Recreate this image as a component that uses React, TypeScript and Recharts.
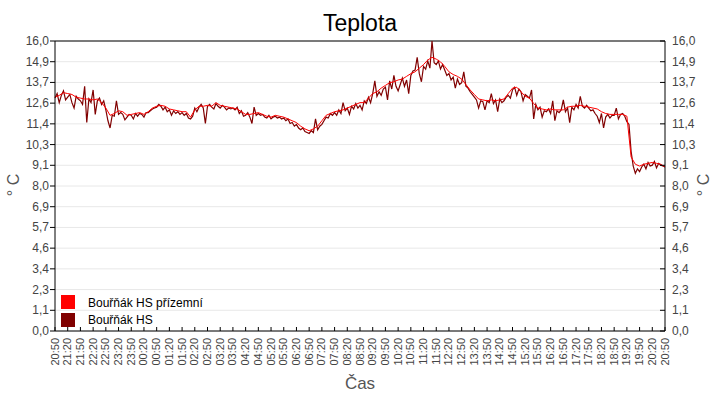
import { LineChart, Line, XAxis, YAxis, CartesianGrid, ReferenceLine } from "recharts"

// čas po 30 minutách (popisky osy X)
const timeLabels = [
  "20:50", "21:20", "21:50", "22:20", "22:50", "23:20", "23:50", "00:20", "00:50",
  "01:20", "01:50", "02:20", "02:50", "03:20", "03:50", "04:20", "04:50", "05:20",
  "05:50", "06:20", "06:50", "07:20", "07:50", "08:20", "08:50", "09:20", "09:50",
  "10:20", "10:50", "11:20", "11:50", "12:20", "12:50", "13:20", "13:50", "14:20",
  "14:50", "15:20", "15:50", "16:20", "16:50", "17:20", "17:50", "18:20", "18:50",
  "19:20", "19:50", "20:20", "20:50",
]

const yTickLabels = [
  "0,0", "1,1", "2,3", "3,4", "4,6", "5,7", "6,9", "8,0",
  "9,1", "10,3", "11,4", "12,6", "13,7", "14,9", "16,0",
]

// Bouřňák HS přízemní – hodnoty po 10 minutách
const prizemni = [
  12.9, 13.0, 13.15, 13.1, 13.05, 12.9, 12.85, 12.8, 12.8, 12.75, 12.8, 12.6,
  12.3, 11.9, 12.0, 12.15, 12.1, 11.9, 11.95, 12.0, 12.05, 11.95, 12.1, 12.3,
  12.4, 12.45, 12.4, 12.25, 12.2, 12.15, 12.1, 12.1, 11.8, 12.2, 12.4, 12.4,
  12.45, 12.4, 12.6, 12.45, 12.4, 12.35, 12.3, 12.25, 12.1, 11.95, 11.95, 12.0,
  12.05, 11.95, 11.85, 11.8, 11.9, 11.85, 11.8, 11.7, 11.6, 11.5, 11.3, 11.15,
  11.05, 11.15, 11.3, 11.6, 11.9, 12.0, 12.1, 12.15, 12.2, 12.3, 12.4, 12.5,
  12.6, 12.6, 12.85, 13.1, 13.2, 13.4, 13.55, 13.7, 13.75, 13.85, 13.9, 14.05,
  14.2, 14.3, 14.5, 14.7, 14.95, 15.1, 15.0, 14.85, 14.6, 14.3, 14.15, 14.05,
  13.9, 13.6, 13.3, 13.05, 12.8, 12.75, 12.7, 12.75, 12.7, 12.75, 12.8, 13.1,
  13.4, 13.45, 13.2, 12.95, 12.85, 12.55, 12.3, 12.25, 12.2, 12.25, 12.2, 12.2,
  12.2, 12.35, 12.4, 12.4, 12.45, 12.4, 12.35, 12.3, 12.25, 12.1, 12.0, 11.95,
  11.95, 11.95, 11.95, 11.85, 9.6, 9.2, 9.1, 9.2, 9.25, 9.3, 9.25, 9.2,
  9.05,
]

// Bouřňák HS – hodnoty po 5 minutách
const hs = [
  12.85, 13.1, 12.6, 13.0, 13.25, 12.75, 12.9, 13.05, 12.6, 12.3, 12.95, 12.8,
  12.7, 12.5, 13.5, 11.5, 12.8, 12.6, 13.3, 11.95, 12.7, 12.85, 12.5, 12.7,
  12.2, 11.6, 11.2, 11.9, 11.85, 12.7, 11.95, 12.05, 11.95, 11.65, 11.8, 11.95,
  11.9, 11.7, 12.0, 11.85, 12.0, 11.95, 11.8, 12.05, 12.05, 12.15, 12.25, 12.3,
  12.35, 12.5, 12.4, 12.2, 12.35, 12.1, 12.2, 11.9, 12.15, 12.0, 12.1, 11.95,
  12.05, 11.9, 12.0, 11.75, 11.7, 11.85, 12.3, 12.1, 12.35, 12.5, 12.3, 11.45,
  12.4, 12.5, 12.35, 12.25, 12.55, 12.4, 12.3, 12.45, 12.35, 12.2, 12.3, 12.25,
  12.3, 12.2, 12.35, 12.0, 12.15, 11.85, 11.9, 12.05, 11.8, 11.45, 12.35, 11.9,
  12.0, 11.9, 11.95, 11.8, 11.75, 11.9, 11.7, 11.8, 11.85, 11.75, 11.8, 11.7,
  11.75, 11.6, 11.7, 11.45, 11.5, 11.3, 11.4, 11.2, 11.1, 11.2, 11.0, 10.95,
  10.9, 11.05, 10.95, 11.7, 11.1, 11.3, 11.4, 11.6, 11.8, 11.75, 12.0, 11.9,
  12.05, 11.9, 12.2, 12.0, 12.6, 12.15, 12.3, 11.95, 12.4, 12.25, 12.55, 12.3,
  12.45, 12.2, 12.7, 12.55, 12.9, 12.6, 13.1, 13.8, 12.95, 13.2, 13.0, 13.35,
  13.45, 12.75, 13.8, 13.35, 14.1, 13.5, 13.25, 13.6, 13.95, 13.5, 13.85, 13.1,
  14.1, 14.35, 14.4, 15.1, 14.2, 13.75, 14.6, 14.45, 14.9, 14.5, 16.0, 14.8,
  14.7, 14.9, 14.45, 14.7, 14.4, 14.1, 14.2, 13.85, 14.0, 13.4, 13.9, 13.6,
  13.7, 14.3, 13.5, 13.4, 13.2, 13.05, 12.9, 12.75, 12.3, 12.7, 12.65, 12.2,
  12.7, 12.6, 13.1, 12.55, 12.75, 12.1, 12.8, 12.6, 12.7, 12.9, 13.0, 12.85,
  13.3, 13.45, 13.0, 13.35, 13.2, 12.7, 13.05, 12.95, 12.85, 13.3, 11.7, 12.5,
  12.2, 12.35, 11.8, 12.15, 12.1, 12.25, 12.0, 12.7, 11.6, 12.15, 12.05, 12.2,
  12.75, 12.1, 12.3, 11.5, 12.35, 12.2, 12.5, 12.3, 12.95, 12.4, 12.3, 12.45,
  12.3, 12.15, 12.2, 12.0, 11.85, 11.5, 12.0, 11.2, 11.8, 11.95, 11.75, 11.9,
  11.9, 12.3, 11.7, 11.95, 12.0, 11.85, 11.55, 11.4, 9.9, 9.1, 8.7, 8.95,
  8.8, 9.05, 9.2, 8.95, 9.3, 9.1, 9.15, 9.35, 9.0, 9.25, 9.15, 9.1,
  9.05,
]

const data = hs.map((v, j) => ({
  min: j * 5,
  hs: v,
  prizemni: j % 2 === 0 ? prizemni[j / 2] : null,
}))

const xTicks = timeLabels.map((_, i) => i * 30)
const yTicks = yTickLabels.map((_, i) => (i * 16) / 14)

const FONT = "'Liberation Sans', Arial, sans-serif"
const PLOT_LEFT = 55
const PLOT_RIGHT = 665
const PLOT_BOTTOM = 331

function TimeTick(props: any) {
  const { x, payload } = props
  const label = timeLabels[Math.round(payload.value / 30)]
  return (
    <g>
      <line x1={x} x2={x} y1={PLOT_BOTTOM} y2={PLOT_BOTTOM - 4} stroke="#000" />
      <text
        transform={`translate(${x + 3.5},${PLOT_BOTTOM + 7}) rotate(-90)`}
        textAnchor="end"
        fontSize={11}
        fontFamily={FONT}
        fill="#444"
      >
        {label}
      </text>
    </g>
  )
}

function LeftTick(props: any) {
  const { y, index } = props
  return (
    <g>
      <line x1={PLOT_LEFT - 5} x2={PLOT_LEFT} y1={y} y2={y} stroke="#000" />
      <text x={PLOT_LEFT - 6} y={y + 4} textAnchor="end" fontSize={12} fontFamily={FONT} fill="#444">
        {yTickLabels[index]}
      </text>
    </g>
  )
}

function RightTick(props: any) {
  const { y, index } = props
  return (
    <g>
      <line x1={PLOT_RIGHT - 5} x2={PLOT_RIGHT} y1={y} y2={y} stroke="#000" />
      <text x={PLOT_RIGHT + 7} y={y + 4} textAnchor="start" fontSize={12} fontFamily={FONT} fill="#444">
        {yTickLabels[index]}
      </text>
    </g>
  )
}

export default function App() {
  return (
    <div style={{ position: "absolute", left: 0, top: 0, width: 720, height: 400, background: "#fff" }}>
      <LineChart
        width={720}
        height={400}
        data={data}
        margin={{ top: 41, right: 10, bottom: 25, left: 10 }}
      >
        <CartesianGrid yAxisId="left" vertical={false} stroke="#e8e8e8" />
        <XAxis
          dataKey="min"
          type="number"
          domain={[0, 1440]}
          ticks={xTicks}
          interval={0}
          height={44}
          axisLine={{ stroke: "#000" }}
          tickLine={false}
          tick={<TimeTick />}
        />
        <YAxis
          yAxisId="left"
          type="number"
          domain={[0, 16]}
          ticks={yTicks}
          interval={0}
          width={45}
          axisLine={{ stroke: "#000" }}
          tickLine={false}
          tick={<LeftTick />}
        />
        <YAxis
          yAxisId="right"
          orientation="right"
          type="number"
          domain={[0, 16]}
          ticks={yTicks}
          interval={0}
          width={45}
          axisLine={{ stroke: "#000" }}
          tickLine={false}
          tick={<RightTick />}
        />
        <ReferenceLine yAxisId="left" y={16} stroke="#000" />
        <Line
          yAxisId="left"
          dataKey="hs"
          name="Bouřňák HS"
          stroke="#800000"
          strokeWidth={1.2}
          dot={false}
          type="linear"
          isAnimationActive={false}
        />
        <Line
          yAxisId="right"
          dataKey="prizemni"
          name="Bouřňák HS přízemní"
          stroke="#ff0000"
          strokeWidth={1}
          dot={false}
          type="linear"
          connectNulls
          isAnimationActive={false}
        />
      </LineChart>
      <svg
        width={720}
        height={400}
        style={{ position: "absolute", left: 0, top: 0, pointerEvents: "none" }}
        fontFamily={FONT}
      >
        <text x={360} y={31} textAnchor="middle" fontSize={23} fill="#000">Teplota</text>
        <text x={360} y={389} textAnchor="middle" fontSize={17} fill="#555">Čas</text>
        <text transform="translate(19,185) rotate(-90)" textAnchor="middle" fontSize={16} fill="#555">° C</text>
        <text transform="translate(709,185) rotate(-90)" textAnchor="middle" fontSize={16} fill="#555">° C</text>
        <rect x={61} y={295} width={14} height={14} fill="#ff0000" />
        <text x={88} y={307} fontSize={12} fill="#000">Bouřňák HS přízemní</text>
        <rect x={61} y={313} width={14} height={14} fill="#800000" />
        <text x={88} y={324} fontSize={12} fill="#000">Bouřňák HS</text>
      </svg>
    </div>
  )
}
